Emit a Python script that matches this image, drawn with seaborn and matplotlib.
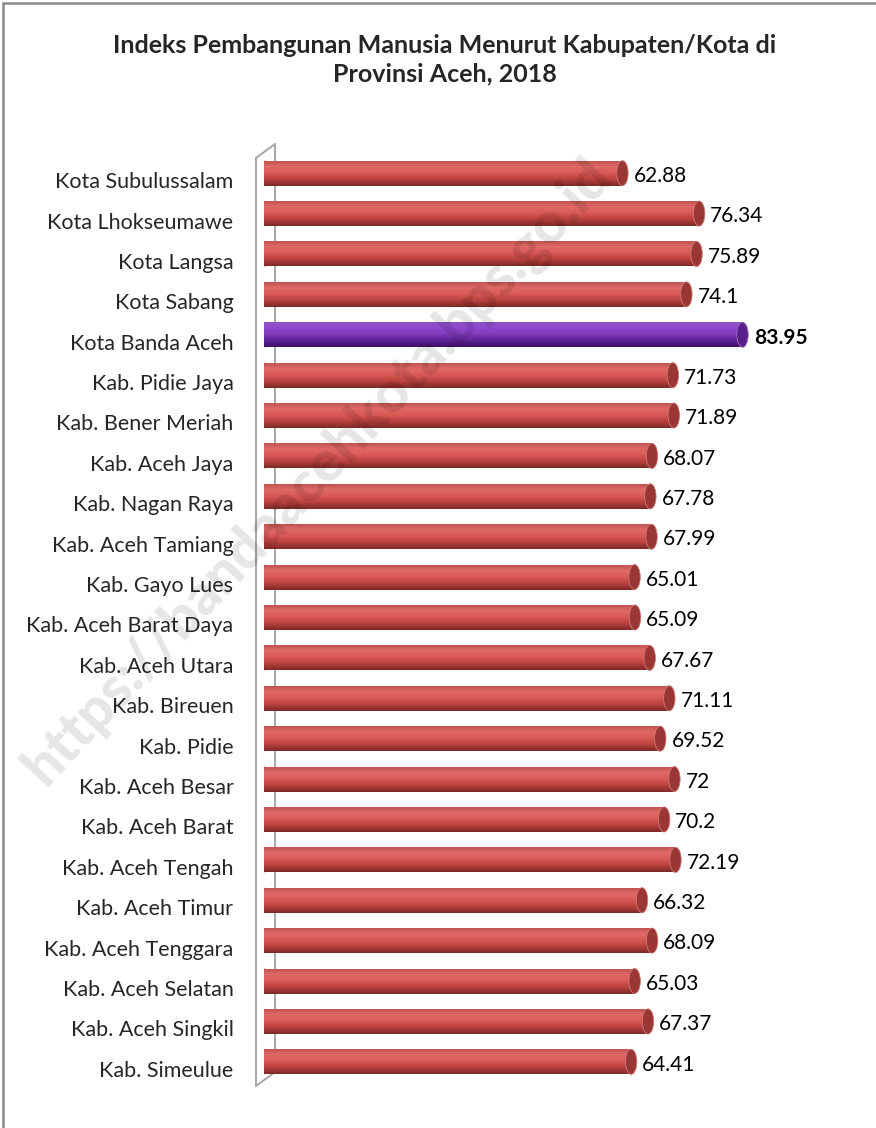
import matplotlib.pyplot as plt
from matplotlib.colors import LinearSegmentedColormap
from matplotlib.patches import Ellipse, Rectangle
from matplotlib.lines import Line2D
from matplotlib.transforms import ScaledTranslation
import seaborn as sns
import pandas as pd
import numpy as np

# Data (top to bottom as in the chart)
regions = ["Kota Subulussalam", "Kota Lhokseumawe", "Kota Langsa", "Kota Sabang",
           "Kota Banda Aceh", "Kab. Pidie Jaya", "Kab. Bener Meriah", "Kab. Aceh Jaya",
           "Kab. Nagan Raya", "Kab. Aceh Tamiang", "Kab. Gayo Lues", "Kab. Aceh Barat Daya",
           "Kab. Aceh Utara", "Kab. Bireuen", "Kab. Pidie", "Kab. Aceh Besar",
           "Kab. Aceh Barat", "Kab. Aceh Tengah", "Kab. Aceh Timur", "Kab. Aceh Tenggara",
           "Kab. Aceh Selatan", "Kab. Aceh Singkil", "Kab. Simeulue"]
ipm = [62.88, 76.34, 75.89, 74.1, 83.95, 71.73, 71.89, 68.07, 67.78, 67.99, 65.01, 65.09,
       67.67, 71.11, 69.52, 72, 70.2, 72.19, 66.32, 68.09, 65.03, 67.37, 64.41]
value_labels = ["62.88", "76.34", "75.89", "74.1", "83.95", "71.73", "71.89", "68.07",
                "67.78", "67.99", "65.01", "65.09", "67.67", "71.11", "69.52", "72",
                "70.2", "72.19", "66.32", "68.09", "65.03", "67.37", "64.41"]
highlight = "Kota Banda Aceh"

df = pd.DataFrame({"region": regions, "ipm": ipm})

sns.set_style("white")
plt.rcParams['font.family'] = ['Lato', 'DejaVu Sans']

W, H = 876, 1128
fig = plt.figure(figsize=(W / 100, H / 100), dpi=100)

# axes placed in pixel terms
ax_left, ax_right, ax_top, ax_bot = 264, 834, 153, 1082
ax = fig.add_axes([ax_left / W, 1 - ax_bot / H, (ax_right - ax_left) / W, (ax_bot - ax_top) / H])

red, purple = "#d2504d", "#7b38b5"
palette = {r: (purple if r == highlight else red) for r in regions}

sns.barplot(data=df, x="ipm", y="region", hue="region", palette=palette,
            order=regions, legend=False, width=0.62, ax=ax, orient="h")

cm_red = LinearSegmentedColormap.from_list("r", ["#b9504d", "#e06a66", "#d85956", "#b8413e", "#7e2927"])
cm_pur = LinearSegmentedColormap.from_list("p", ["#8c55c0", "#9048d0", "#7e3ab8", "#5f2395", "#3d1064"])
grad = np.linspace(0, 1, 64).reshape(-1, 1)

for patch, r in zip(ax.patches, regions):
    x0, y0 = patch.get_x(), patch.get_y()
    w, h = patch.get_width(), patch.get_height()
    cmap = cm_pur if r == highlight else cm_red
    patch.set_edgecolor("none")
    im = ax.imshow(grad, cmap=cmap, aspect="auto", origin="upper",
                   extent=[x0, x0 + w, y0 + h, y0], zorder=2)
    im.set_clip_path(patch)
    # cylinder end cap
    cap_col = "#5a1f8a" if r == highlight else "#9a3633"
    ax.add_patch(Ellipse((x0 + w, y0 + h / 2), 2.0, h, facecolor=cap_col,
                         edgecolor="#c87a78" if r != highlight else "#9a70c0", lw=0.6, zorder=3))
    ax.add_patch(Ellipse((x0, y0 + h / 2), 2.0, h, facecolor="#c4504d" if r != highlight else "#7a38b0",
                         edgecolor="none", zorder=1.5))

ax.set_xlim(0, 100)
ax.set_ylim(len(regions) - 0.5, -0.5)

for i, (v, lab, r) in enumerate(zip(ipm, value_labels, regions)):
    t = ax.annotate(lab, (v, i), xytext=(8, -2), textcoords="offset points",
                    va="center", ha="left", fontsize=15,
                    fontweight="bold" if r == highlight else "normal", color="black", zorder=5)

ax.set_xlabel("")
ax.set_ylabel("")
ax.set_xticks([])
ax.tick_params(axis="y", length=0, pad=22, labelsize=15.5)
shift = ScaledTranslation(0, -5 / 72, fig.dpi_scale_trans)
for tl in ax.get_yticklabels():
    tl.set_transform(tl.get_transform() + shift)
for s in ax.spines.values():
    s.set_visible(False)
ax.patch.set_alpha(0)

# 3D wall outline
def px(x, y):
    return x / W, 1 - y / H

wall = "#a6a6a6"
for (xa, ya), (xb, yb) in [((256, 158), (256, 1086)), ((256, 158), (275, 144)),
                           ((275, 144), (275, 1072)), ((256, 1086), (275, 1072))]:
    (fx0, fy0), (fx1, fy1) = px(xa, ya), px(xb, yb)
    fig.add_artist(Line2D([fx0, fx1], [fy0, fy1], color=wall, lw=1.4, zorder=0))

# outer chart border (cropped at right/bottom)
fig.add_artist(Rectangle(px(3, 1140), 900 / W, 1137 / H, fill=False,
                         edgecolor="#8c8c8c", lw=1.8))

fig.text(445 / W, 1 - 60 / H,
         "Indeks Pembangunan Manusia Menurut Kabupaten/Kota di\nProvinsi Aceh, 2018",
         ha="center", va="center", fontsize=18, fontweight="bold", linespacing=1.3)

# watermark
fig.text(318 / W, 1 - 472 / H, "https://bandaacehkota.bps.go.id", rotation=47,
         ha="center", va="center", fontsize=41, fontweight="black",
         color="black", alpha=0.1, zorder=10)

plt.savefig("out.png", dpi=100)
plt.close()
